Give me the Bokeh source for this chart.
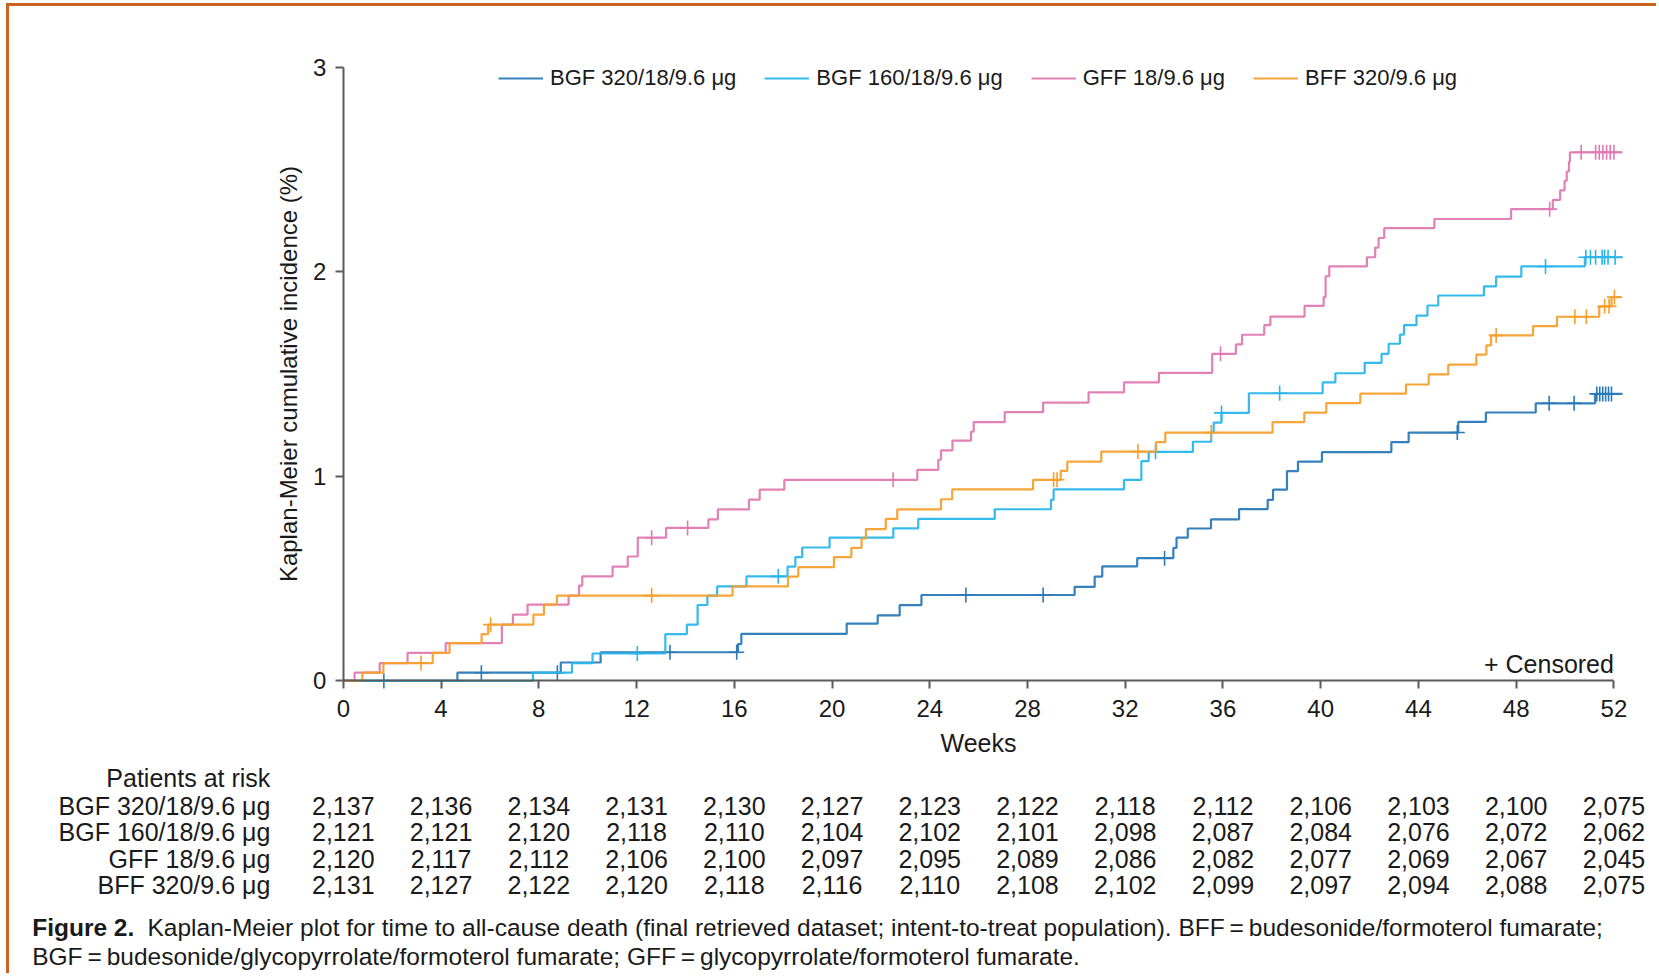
import numpy as np
from bokeh.plotting import figure
from bokeh.models import Range1d, ColumnDataSource, Legend, LegendItem, FixedTicker
from bokeh.embed import file_html
from bokeh.resources import INLINE
from bokeh.core.properties import value

FONT = "Liberation Sans"

# ---------------- data ----------------
series_names = ["BGF 320/18/9.6 \u03bcg", "BGF 160/18/9.6 \u03bcg",
                "GFF 18/9.6 \u03bcg", "BFF 320/9.6 \u03bcg"]
series_colors = ["#2a7ab9", "#29b6ec", "#e07ab3", "#f5a02e"]

bgf320_weeks = [4.67, 8.9, 10.53, 16.15, 16.29, 20.6, 21.87, 22.77, 23.66, 29.93,
                30.75, 31.06, 32.49, 33.97, 34.1, 34.56, 35.51, 36.66, 37.83, 38.05,
                38.62, 39.07, 40.05, 42.89, 43.6, 45.63, 46.76, 48.8, 51.23]
bgf320_inc = [0.04, 0.09, 0.14, 0.18, 0.23, 0.28, 0.32, 0.37, 0.42, 0.46,
              0.51, 0.56, 0.6, 0.65, 0.7, 0.745, 0.79, 0.84, 0.885, 0.935,
              1.025, 1.072, 1.118, 1.167, 1.214, 1.266, 1.312, 1.357, 1.403]
bgf320_cens = [1.66, 5.65, 8.76, 13.37, 16.1, 25.48, 28.64, 33.61, 45.59, 49.35,
               50.37, 51.3, 51.42, 51.54, 51.66, 51.78, 51.9]

bgf160_weeks = [7.76, 9.36, 10.2, 13.18, 14.06, 14.5, 14.9, 15.3, 16.5, 18.18,
                18.5, 18.78, 19.9, 22.51, 23.53, 26.66, 28.96, 29.07, 31.95, 32.66,
                32.96, 34.77, 35.52, 35.62, 35.94, 37.06, 40.08, 40.6, 41.8, 42.49,
                42.78, 43.24, 43.41, 43.92, 44.37, 44.81, 46.68, 47.18, 48.21, 50.81]
bgf160_inc = [0.04, 0.087, 0.134, 0.229, 0.275, 0.371, 0.417, 0.462, 0.511, 0.559,
              0.605, 0.652, 0.7, 0.746, 0.792, 0.839, 0.885, 0.936, 0.983, 1.074,
              1.12, 1.169, 1.216, 1.263, 1.31, 1.406, 1.459, 1.504, 1.555, 1.599,
              1.648, 1.693, 1.739, 1.786, 1.835, 1.884, 1.929, 1.976, 2.026, 2.071]
bgf160_cens = [12.03, 17.8, 33.24, 35.94, 38.32, 49.2, 50.85, 51.04, 51.25, 51.52,
               51.62, 51.76, 52.05]

gff_weeks = [0.46, 1.49, 2.63, 4.19, 6.49, 6.94, 7.54, 9.22, 9.65, 9.78,
             11.02, 11.64, 12.05, 13.21, 14.94, 15.33, 16.6, 17.04, 18.05, 23.49,
             24.35, 24.46, 24.93, 25.69, 25.8, 27.07, 28.64, 30.5, 31.95, 33.38,
             35.56, 36.53, 36.78, 37.69, 37.94, 39.34, 40.12, 40.2, 40.35, 41.89,
             42.23, 42.37, 42.6, 44.65, 47.79, 49.5, 49.8, 49.98, 50.07, 50.16, 50.2]
gff_inc = [0.04, 0.087, 0.137, 0.185, 0.275, 0.324, 0.373, 0.417, 0.466, 0.511,
           0.559, 0.608, 0.7, 0.748, 0.79, 0.838, 0.886, 0.935, 0.983, 1.032,
           1.081, 1.127, 1.175, 1.219, 1.265, 1.314, 1.36, 1.41, 1.459, 1.506,
           1.599, 1.645, 1.692, 1.739, 1.781, 1.833, 1.876, 1.978, 2.026, 2.071,
           2.118, 2.165, 2.213, 2.258, 2.306, 2.351, 2.398, 2.445, 2.49, 2.538, 2.584]
gff_cens = [12.62, 14.09, 22.5, 35.9, 49.37, 50.66, 51.25, 51.4, 51.55, 51.7,
            51.85, 52.0]

bff_weeks = [0.78, 1.64, 3.66, 4.35, 5.66, 5.93, 7.78, 8.21, 8.74, 15.93,
             18.2, 18.62, 20.08, 20.79, 21.21, 21.39, 22.2, 22.67, 24.46, 24.92,
             28.23, 29.36, 29.63, 31.02, 33.26, 33.64, 38.03, 39.33, 40.23, 41.62,
             43.49, 44.42, 45.22, 46.37, 46.78, 46.97, 48.69, 49.67, 51.4, 51.9]
bff_inc = [0.04, 0.087, 0.137, 0.185, 0.229, 0.275, 0.324, 0.373, 0.417, 0.462,
           0.51, 0.556, 0.605, 0.65, 0.696, 0.742, 0.792, 0.838, 0.888, 0.936,
           0.983, 1.027, 1.072, 1.121, 1.167, 1.214, 1.265, 1.311, 1.358, 1.404,
           1.449, 1.498, 1.546, 1.595, 1.64, 1.689, 1.734, 1.78, 1.831, 1.876]
bff_cens = [3.18, 6.03, 12.62, 29.07, 29.21, 32.52, 35.52, 47.18, 50.4, 50.87,
            51.62, 51.8, 52.02]

follow_up_end = [52.35, 52.35, 52.35, 52.3]

x_ticks = list(range(0, 53, 4))
y_ticks = [0, 1, 2, 3]

risk_bgf320 = [2137, 2136, 2134, 2131, 2130, 2127, 2123, 2122, 2118, 2112, 2106, 2103, 2100, 2075]
risk_bgf160 = [2121, 2121, 2120, 2118, 2110, 2104, 2102, 2101, 2098, 2087, 2084, 2076, 2072, 2062]
risk_gff = [2120, 2117, 2112, 2106, 2100, 2097, 2095, 2089, 2086, 2082, 2077, 2069, 2067, 2045]
risk_bff = [2131, 2127, 2122, 2120, 2118, 2116, 2110, 2108, 2102, 2099, 2097, 2094, 2088, 2075]

caption_bold = "Figure 2."
caption_line1 = ("Kaplan-Meier plot for time to all-cause death (final retrieved dataset; "
                 "intent-to-treat population). BFF\u2009=\u2009budesonide/formoterol fumarate;")
caption_line2 = ("BGF\u2009=\u2009budesonide/glycopyrrolate/formoterol fumarate; "
                 "GFF\u2009=\u2009glycopyrrolate/formoterol fumarate.")

# ---------------- geometry (pixels) ----------------
W, H = 1650, 970
ORIGIN_X, ORIGIN_Y = 333.8, 674.4      # canvas px of (0 weeks, 0 %)
PX_PER_WEEK, PX_PER_PCT = 24.435, 204.57


def wx(px):          # canvas x pixel -> weeks
    return (px - ORIGIN_X) / PX_PER_WEEK


def py(px):          # canvas y pixel -> percent
    return (ORIGIN_Y - px) / PX_PER_PCT


p = figure(width=W, height=H, x_range=Range1d(wx(0), wx(W)), y_range=Range1d(py(H), py(0)),
           output_backend="svg", toolbar_location=None,
           min_border_left=0, min_border_right=0, min_border_top=0, min_border_bottom=0)
p.styles = {"border-top": "3px solid #c8641f", "border-left": "3px solid #c8641f",
            "margin-left": "6px", "margin-top": "3px"}
p.outline_line_color = None
p.xgrid.visible = False
p.ygrid.visible = False

for ax in (p.xaxis[0], p.yaxis[0]):
    ax.fixed_location = 0
    ax.axis_line_color = "#5a5a5a"
    ax.axis_line_width = 2
    ax.major_tick_line_color = "#5a5a5a"
    ax.major_tick_line_width = 2
    ax.major_tick_out = 8
    ax.major_tick_in = 0
    ax.minor_tick_out = 0
    ax.minor_tick_in = 0
    ax.major_label_text_font = FONT
    ax.major_label_text_font_size = "24px"
    ax.major_label_text_color = "#1a1a1a"
    ax.axis_label_text_font = FONT
    ax.axis_label_text_font_style = "normal"
    ax.axis_label_text_color = "#1a1a1a"

p.xaxis.axis_label_text_font_size = "25px"
p.yaxis.axis_label_text_font_size = "24px"
p.xaxis.major_label_standoff = 11
p.xaxis.axis_label_standoff = 9
p.yaxis.major_label_standoff = 9
p.yaxis.axis_label_standoff = 8
p.xaxis.ticker = FixedTicker(ticks=x_ticks)
p.yaxis.ticker = FixedTicker(ticks=y_ticks)
p.xaxis.bounds = (0, 52)
p.yaxis.bounds = (0, 3)
p.xaxis.axis_label = "Weeks"
p.yaxis.axis_label = "Kaplan-Meier cumulative incidence (%)"

all_weeks = [bgf320_weeks, bgf160_weeks, gff_weeks, bff_weeks]
all_inc = [bgf320_inc, bgf160_inc, gff_inc, bff_inc]
all_cens = [bgf320_cens, bgf160_cens, gff_cens, bff_cens]

items = []
for name, col, wk, inc, cens, end in zip(series_names, series_colors, all_weeks, all_inc,
                                         all_cens, follow_up_end):
    xs = [0.0] + list(wk) + [end]
    ys = [0.0] + list(inc) + [inc[-1]]
    r = p.step(x=xs, y=ys, mode="after", line_color=col, line_width=2.2, line_alpha=0.95)
    t = np.array(xs)
    v = np.array(ys)
    idx = np.searchsorted(t, np.array(cens), side="right") - 1
    p.scatter(x=cens, y=v[idx], marker="cross", size=15, line_color=col, line_width=1.6)
    items.append(LegendItem(label=name, renderers=[r]))

legend = Legend(items=items, orientation="horizontal", location=(489, H - 85),
                glyph_width=45, glyph_height=20, label_standoff=7, spacing=28,
                padding=0, margin=0, label_text_font=FONT, label_text_font_size="22px",
                label_text_color="#1a1a1a", border_line_alpha=0, background_fill_alpha=0,
                label_height=24)
p.add_layout(legend)

TXT = dict(text_font=value(FONT), text_color="#1a1a1a", text_baseline="middle")

p.text(x=[52], y=[py(ORIGIN_Y - 17.4)], text=["+ Censored"], text_align="right",
       text_font_size="25px", **TXT)

# ---------------- patients at risk table ----------------
row_px = [124.7, 151.2, 177.6, 204.1]          # px below the x axis
header_px = 97.2
tx, ty, tt = [], [], []
for off, row in zip(row_px, [risk_bgf320, risk_bgf160, risk_gff, risk_bff]):
    for w, n in zip(x_ticks, row):
        tx.append(w)
        ty.append(py(ORIGIN_Y + off))
        tt.append(f"{n:,}")
p.text(x="x", y="y", text="text", source=ColumnDataSource(dict(x=tx, y=ty, text=tt)),
       text_align="center", text_font_size="25px", **TXT)

row_titles = ["Patients at risk"] + series_names
row_title_y = [py(ORIGIN_Y + o) for o in [header_px] + row_px]
p.text(x=[wx(260.8)] * 5, y=row_title_y, text=row_titles, text_align="right",
       text_font_size="25px", **TXT)

# ---------------- caption ----------------
cap1_y, cap2_y = py(ORIGIN_Y + 246.4), py(ORIGIN_Y + 276.0)
p.text(x=[wx(22.7)], y=[cap1_y], text=[caption_bold], text_align="left",
       text_font_size="24.5px", text_font_style="bold", **TXT)
p.text(x=[wx(138)], y=[cap1_y], text=[caption_line1], text_align="left",
       text_font_size="24.5px", **TXT)
p.text(x=[wx(22.7)], y=[cap2_y], text=[caption_line2], text_align="left",
       text_font_size="24.5px", **TXT)

open("out.html", "w").write(file_html(p, INLINE))
